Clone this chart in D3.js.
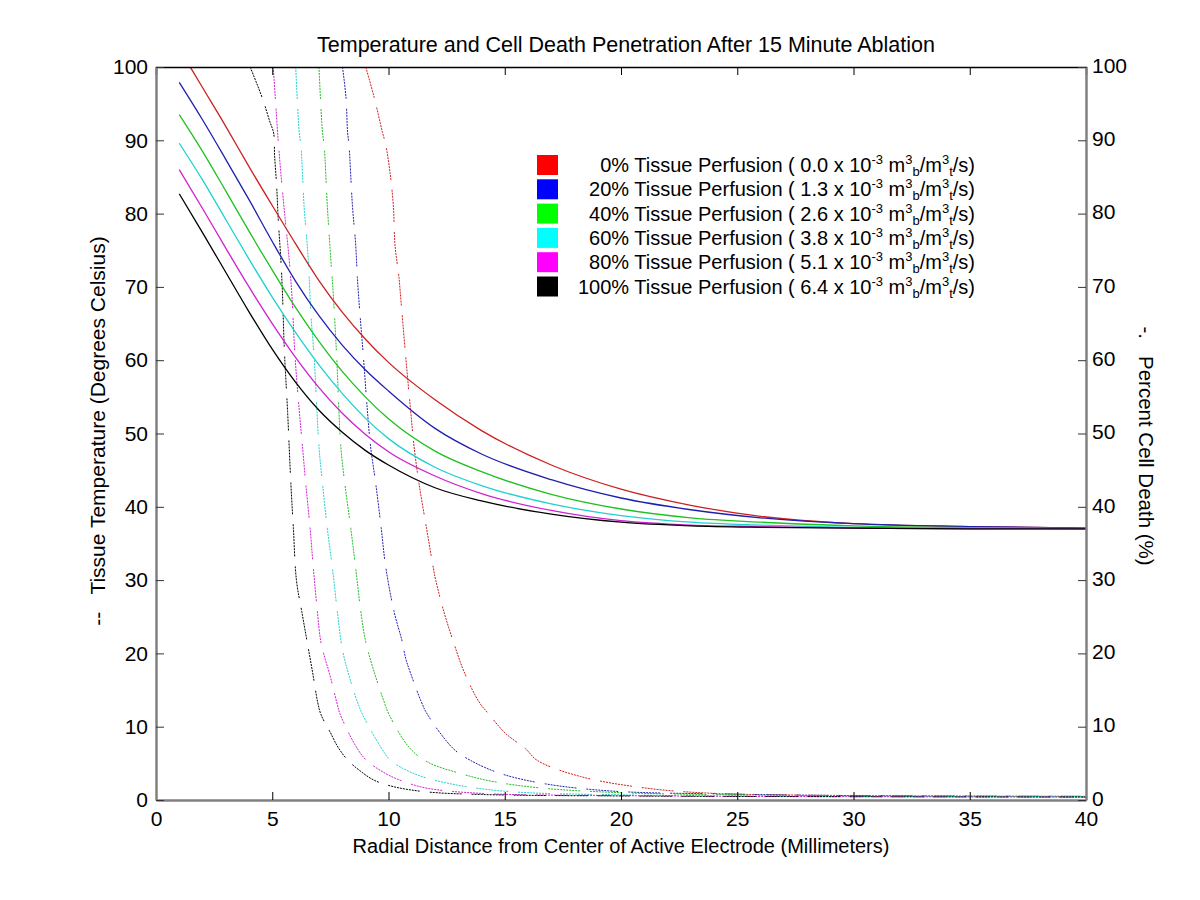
<!DOCTYPE html>
<html>
<head>
<meta charset="utf-8">
<script src="https://cdn.jsdelivr.net/npm/d3@7"></script>
<style>
  body { margin: 0; background: #fff; }
  svg { font-family: "Liberation Sans", Arial, sans-serif; }
  .pre { white-space: pre; }
</style>
</head>
<body>
<div id="chart"></div>
<script>
// x positions (mm) for the temperature curves
const tempX = [1, 2, 3, 4, 5, 6, 7, 8, 9, 10, 12, 14, 17, 20, 23, 26, 30, 35, 40];

// tissue temperature (deg C), one array per perfusion level
const temp0   = [102.5, 97.2, 91.9, 86.4, 81.1, 75.9, 70.9, 66.6, 62.9, 59.7, 54.6, 50.4, 45.7, 42.4, 40.2, 38.7, 37.7, 37.3, 37.1];
const temp20  = [97.9, 92.8, 87.4, 81.9, 76.2, 70.8, 66.1, 62.1, 58.7, 55.8, 50.7, 47.2, 43.7, 41.2, 39.6, 38.5, 37.7, 37.3, 37.1];
const temp40  = [93.5, 88.5, 83.1, 77.6, 72.3, 67.2, 62.6, 58.5, 55.0, 52.0, 47.6, 44.8, 41.7, 39.7, 38.5, 37.9, 37.4, 37.15, 37.05];
const temp60  = [89.6, 84.6, 79.2, 73.8, 68.6, 63.8, 59.4, 55.5, 52.1, 49.3, 45.4, 42.9, 40.4, 38.8, 37.9, 37.5, 37.2, 37.1, 37.0];
const temp80  = [86.0, 80.7, 75.3, 70.0, 65.0, 60.4, 56.3, 52.8, 49.9, 47.5, 44.2, 41.8, 39.5, 38.1, 37.5, 37.3, 37.1, 37.0, 37.0];
const temp100 = [82.7, 77.4, 72.0, 66.6, 61.5, 57.0, 53.2, 50.2, 47.7, 45.7, 42.6, 40.8, 39.0, 37.9, 37.4, 37.2, 37.1, 37.0, 37.0];

// percent cell death, [x (mm), percent] pairs
const death0 = [[9.02,100],[9.38,95.9],[9.74,91.1],[9.88,89.4],[10.07,85.5],[10.21,81],[10.28,75.7],[10.45,71.3],[10.52,68.7],[10.74,60.5],[10.95,53.2],[11.10,48.2],[11.31,43.2],[11.64,37],[11.93,31.6],[12.03,30],[12.38,25.7],[12.79,21.6],[13.25,17.5],[13.89,13.4],[14.32,11.7],[15.03,9.1],[15.89,7.0],[16.40,5.4],[18.26,3.2],[21.13,1.6],[24,0.9],[27,0.7],[33,0.55],[40,0.5]];
const death20 = [[8.02,100],[8.17,95.9],[8.24,91.1],[8.30,89.4],[8.45,81],[8.59,75.7],[8.66,71.3],[8.77,66.4],[8.92,60.5],[9.09,53.2],[9.23,48.2],[9.45,43.2],[9.69,37],[9.88,31.8],[10.24,25.7],[10.59,21.6],[10.74,19.3],[10.95,17.3],[11.41,13.4],[11.67,11.7],[12.79,7.0],[13.53,5.4],[14.83,3.6],[16.75,2.2],[19.7,1.2],[25,0.8],[30,0.6],[40,0.5]];
const death40 = [[7.01,100],[7.16,91.1],[7.23,89.4],[7.37,81],[7.52,73.7],[7.63,68.7],[7.77,60.5],[7.95,48.2],[8.12,43.2],[8.38,37],[8.59,31.6],[8.81,25.7],[9.02,21.6],[9.38,17.5],[9.81,13.4],[10.02,11.7],[10.88,7.2],[11.67,5.2],[13.11,3.6],[14.53,2.5],[16.68,1.6],[20,1.0],[25,0.7],[30,0.55],[40,0.45]];
const death60 = [[6.01,100],[6.16,91.1],[6.23,89.4],[6.37,81],[6.55,73.7],[6.66,66.4],[6.80,60.5],[7.01,48.2],[7.16,43.2],[7.37,37],[7.59,31.6],[7.80,25.7],[8.02,20.5],[8.3,17],[8.66,13.4],[8.88,11.7],[9.67,7.2],[10.10,5.4],[11.10,3.6],[12.53,2.3],[15,1.2],[20,0.7],[30,0.5],[40,0.45]];
const death80 = [[5.04,100],[5.13,95.9],[5.23,91.1],[5.37,85.5],[5.56,79.1],[5.73,73.7],[5.84,69.1],[5.98,60.5],[6.16,53.2],[6.30,48.2],[6.44,43.2],[6.63,37],[6.77,31.6],[6.94,25.7],[7.09,21.6],[7.27,19.3],[7.44,17.5],[7.77,13.4],[7.92,11.7],[8.66,7.0],[9.06,5.4],[9.88,3.6],[10.67,2.5],[11.67,1.6],[14,0.9],[20,0.6],[30,0.45],[40,0.4]];
const death100 = [[4.05,100],[4.58,95.7],[4.9,92.5],[5.06,91],[5.1,88],[5.19,83.7],[5.26,79.1],[5.37,73.7],[5.44,69.1],[5.52,61.4],[5.66,53],[5.80,43.2],[5.91,37],[6.04,30],[6.27,25.7],[6.5,21.6],[6.73,17.5],[6.95,13.4],[7.09,11.7],[7.5,9.2],[7.83,7.2],[8.26,5.4],[8.81,3.9],[9.38,2.7],[10.24,1.8],[11.67,1.1],[14,0.75],[20,0.55],[30,0.45],[40,0.4]];

// legend
const perfusionPct = ['0%', '20%', '40%', '60%', '80%', '100%'];
const perfusionRate = ['0.0', '1.3', '2.6', '3.8', '5.1', '6.4'];
const legendColors = ['#ff0000', '#0000ff', '#00ff00', '#00ffff', '#ff00ff', '#000000'];
const lineColors = ['#cc2020', '#2020b0', '#20c020', '#20d0d0', '#d020d0', '#000000'];

const xTicks = [0, 5, 10, 15, 20, 25, 30, 35, 40];
const yTicks = [0, 10, 20, 30, 40, 50, 60, 70, 80, 90, 100];

const temps = [temp0, temp20, temp40, temp60, temp80, temp100];
const deaths = [death0, death20, death40, death60, death80, death100];

const W = 1200, H = 900;
const margin = { top: 67, right: 114, bottom: 100, left: 156 };
const width = W - margin.left - margin.right;
const height = H - margin.top - margin.bottom;

const svg = d3.select('#chart').append('svg')
  .attr('width', W)
  .attr('height', H);

svg.append('rect').attr('width', W).attr('height', H).attr('fill', '#fff');

const g = svg.append('g')
  .attr('transform', `translate(${margin.left},${margin.top})`);

const x = d3.scaleLinear().domain([0, 40]).range([0, width]);
const y = d3.scaleLinear().domain([0, 100]).range([height, 0]);
const y2 = d3.scaleLinear().domain([0, 100]).range([height, 0]);

g.append('clipPath').attr('id', 'plot-clip')
  .append('rect').attr('width', width).attr('height', height);

const plot = g.append('g').attr('clip-path', 'url(#plot-clip)');

// dash-dot look: short dots grouped into longer dashes
const dotted = d3.range(10).map(() => '2,1').join(',') + ',2,10';

const deathLine = d3.line()
  .x(d => x(d[0]))
  .y(d => y2(d[1]))
  .curve(d3.curveCatmullRom.alpha(0.5));

deaths.forEach((d, i) => {
  plot.append('path')
    .datum(d)
    .attr('fill', 'none')
    .attr('stroke', lineColors[i])
    .attr('stroke-width', 1)
    .attr('stroke-dasharray', dotted)
    .attr('d', deathLine);
});

const tempLine = d3.line()
  .x((d, j) => x(tempX[j]))
  .y(d => y(d))
  .curve(d3.curveMonotoneX);

temps.forEach((d, i) => {
  plot.append('path')
    .datum(d)
    .attr('fill', 'none')
    .attr('stroke', lineColors[i])
    .attr('stroke-width', 1.3)
    .attr('d', tempLine);
});

// Axes
const tickFont = '21px';

// top frame line
g.append('g')
  .call(d3.axisTop(x).tickValues(xTicks).tickSize(-8).tickFormat(''))
  .call(a => a.select('.domain').attr('stroke', '#000').attr('stroke-width', 1.5))
  .call(a => a.selectAll('.tick line').attr('stroke', '#000'));

// bottom
g.append('g')
  .attr('transform', `translate(0,${height})`)
  .call(d3.axisBottom(x).tickValues(xTicks).tickSize(-8).tickPadding(11).tickSizeOuter(0))
  .call(a => a.select('.domain').attr('stroke', '#808080').attr('stroke-width', 2.5))
  .call(a => a.selectAll('.tick line').attr('stroke', '#000'))
  .call(a => a.selectAll('text').attr('font-size', tickFont).attr('fill', '#000')
    .attr('font-family', '"Liberation Sans", Arial, sans-serif'));

// left
g.append('g')
  .call(d3.axisLeft(y).tickValues(yTicks).tickSize(-8).tickPadding(8).tickSizeOuter(0))
  .call(a => a.select('.domain').attr('stroke', '#808080').attr('stroke-width', 2.5))
  .call(a => a.selectAll('.tick line').attr('stroke', '#333'))
  .call(a => a.selectAll('text').attr('font-size', tickFont).attr('fill', '#000')
    .attr('font-family', '"Liberation Sans", Arial, sans-serif'));

// right
g.append('g')
  .attr('transform', `translate(${width},0)`)
  .call(d3.axisRight(y2).tickValues(yTicks).tickSize(-8).tickPadding(6).tickSizeOuter(0))
  .call(a => a.select('.domain').attr('stroke', '#808080').attr('stroke-width', 2.5))
  .call(a => a.selectAll('.tick line').attr('stroke', '#333'))
  .call(a => a.selectAll('text').attr('font-size', tickFont).attr('fill', '#000')
    .attr('dy', '0.25em')
    .attr('font-family', '"Liberation Sans", Arial, sans-serif'));

// Title and labels
svg.append('text')
  .attr('x', margin.left + width / 2 + 5)
  .attr('y', 52)
  .attr('text-anchor', 'middle')
  .attr('font-size', '21.5px')
  .text('Temperature and Cell Death Penetration After 15 Minute Ablation');

svg.append('text')
  .attr('x', margin.left + width / 2)
  .attr('y', 853)
  .attr('text-anchor', 'middle')
  .attr('font-size', '20px')
  .text('Radial Distance from Center of Active Electrode (Millimeters)');

svg.append('text')
  .attr('class', 'pre')
  .attr('transform', `translate(105,${431}) rotate(-90)`)
  .attr('text-anchor', 'middle')
  .attr('font-size', '21px')
  .text('--   Tissue Temperature (Degrees Celsius)');

svg.append('text')
  .attr('class', 'pre')
  .attr('transform', `translate(1139,${446}) rotate(90)`)
  .attr('text-anchor', 'middle')
  .attr('font-size', '20.5px')
  .text('-.   Percent Cell Death (%)');

// Legend
const legend = svg.append('g').attr('transform', 'translate(537,155)');
perfusionPct.forEach((p, i) => {
  const row = legend.append('g').attr('transform', `translate(0,${i * 24.3})`);
  row.append('rect')
    .attr('width', 21).attr('height', 20)
    .attr('fill', legendColors[i]);
  const t = row.append('text')
    .attr('x', 438)
    .attr('y', 17)
    .attr('text-anchor', 'end')
    .attr('font-size', '20px');
  t.append('tspan').text(`${p} Tissue Perfusion ( ${perfusionRate[i]} x 10`);
  t.append('tspan').attr('dy', -8).attr('font-size', '13px').text('-3');
  t.append('tspan').attr('dy', 8).text(' m');
  t.append('tspan').attr('dy', -8).attr('font-size', '13px').text('3');
  t.append('tspan').attr('dy', 12).attr('font-size', '13px').text('b');
  t.append('tspan').attr('dy', -4).text('/m');
  t.append('tspan').attr('dy', -8).attr('font-size', '13px').text('3');
  t.append('tspan').attr('dy', 12).attr('font-size', '13px').text('t');
  t.append('tspan').attr('dy', -4).text('/s)');
});
</script>
</body>
</html>
